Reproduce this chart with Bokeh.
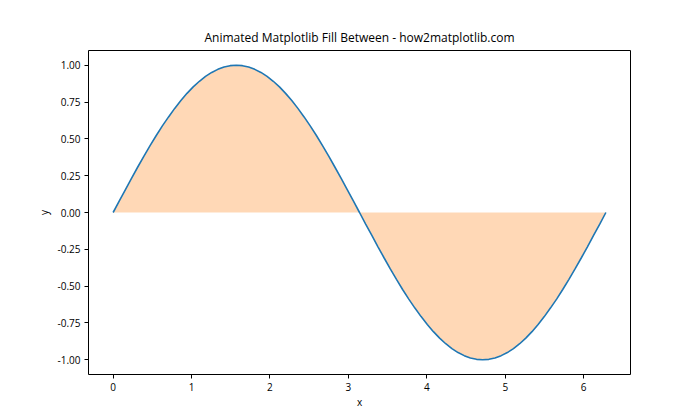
from bokeh.plotting import figure
from bokeh.models import FixedTicker, NumeralTickFormatter, Range1d
from bokeh.embed import file_html
from bokeh.resources import INLINE

# Curve
xs = [0.000, 0.079, 0.157, 0.236, 0.314, 0.393, 0.471, 0.550, 0.628, 0.707,
      0.785, 0.864, 0.942, 1.021, 1.100, 1.178, 1.257, 1.335, 1.414, 1.492,
      1.571, 1.649, 1.728, 1.806, 1.885, 1.963, 2.042, 2.121, 2.199, 2.278,
      2.356, 2.435, 2.513, 2.592, 2.670, 2.749, 2.827, 2.906, 2.985, 3.063,
      3.142, 3.220, 3.299, 3.377, 3.456, 3.534, 3.613, 3.691, 3.770, 3.848,
      3.927, 4.006, 4.084, 4.163, 4.241, 4.320, 4.398, 4.477, 4.555, 4.634,
      4.712, 4.791, 4.869, 4.948, 5.027, 5.105, 5.184, 5.262, 5.341, 5.419,
      5.498, 5.576, 5.655, 5.733, 5.812, 5.890, 5.969, 6.048, 6.126, 6.205,
      6.283]
ys = [0.000, 0.079, 0.156, 0.233, 0.309, 0.383, 0.454, 0.523, 0.588, 0.649,
      0.707, 0.760, 0.809, 0.853, 0.891, 0.924, 0.951, 0.972, 0.988, 0.997,
      1.000, 0.997, 0.988, 0.972, 0.951, 0.924, 0.891, 0.853, 0.809, 0.760,
      0.707, 0.649, 0.588, 0.523, 0.454, 0.383, 0.309, 0.233, 0.156, 0.079,
      0.000, -0.079, -0.156, -0.233, -0.309, -0.383, -0.454, -0.523, -0.588, -0.649,
      -0.707, -0.760, -0.809, -0.853, -0.891, -0.924, -0.951, -0.972, -0.988, -0.997,
      -1.000, -0.997, -0.988, -0.972, -0.951, -0.924, -0.891, -0.853, -0.809, -0.760,
      -0.707, -0.649, -0.588, -0.523, -0.454, -0.383, -0.309, -0.233, -0.156, -0.079,
      0.000]
baseline = [0.0] * len(xs)

x_ticks = [0, 1, 2, 3, 4, 5, 6]
y_ticks = [-1.0, -0.75, -0.5, -0.25, 0.0, 0.25, 0.5, 0.75, 1.0]

FONT = "Open Sans"

p = figure(width=700, height=420, output_backend="svg", toolbar_location=None,
           title="Animated Matplotlib Fill Between - how2matplotlib.com",
           x_range=Range1d(-0.314, 6.597), y_range=Range1d(-1.1, 1.1),
           min_border_left=88, min_border_right=70, min_border_top=50,
           min_border_bottom=46)

p.varea(x=xs, y1=baseline, y2=ys, fill_color="#ff7f0e", fill_alpha=0.3)
p.line(xs, ys, line_color="#1f77b4", line_width=1.6)

p.title.text_font = FONT
p.title.text_font_size = "12px"
p.title.text_font_style = "normal"
p.title.align = "center"
p.title.text_color = "black"
p.title.offset = 0

p.xgrid.visible = False
p.ygrid.visible = False
p.outline_line_color = "black"
p.outline_line_width = 1
p.outline_line_alpha = 1

p.xaxis.ticker = FixedTicker(ticks=x_ticks)
p.yaxis.ticker = FixedTicker(ticks=y_ticks)
p.yaxis.formatter = NumeralTickFormatter(format="0.00")
p.xaxis.axis_label = "x"
p.yaxis.axis_label = "y"

for ax in (p.xaxis, p.yaxis):
    ax.axis_line_color = None
    ax.major_tick_line_color = "black"
    ax.major_tick_out = 4
    ax.major_tick_in = 0
    ax.minor_tick_line_color = None
    ax.major_label_text_font = FONT
    ax.major_label_text_font_size = "10px"
    ax.major_label_text_color = "black"
    ax.axis_label_text_font = FONT
    ax.axis_label_text_font_size = "10px"
    ax.axis_label_text_font_style = "normal"
    ax.axis_label_text_color = "black"
    ax.major_label_standoff = 4

p.xaxis.axis_label_standoff = 1
p.yaxis.axis_label_standoff = 4

p.background_fill_color = "white"
p.border_fill_color = "white"

open("out.html", "w").write(file_html(p, INLINE))
